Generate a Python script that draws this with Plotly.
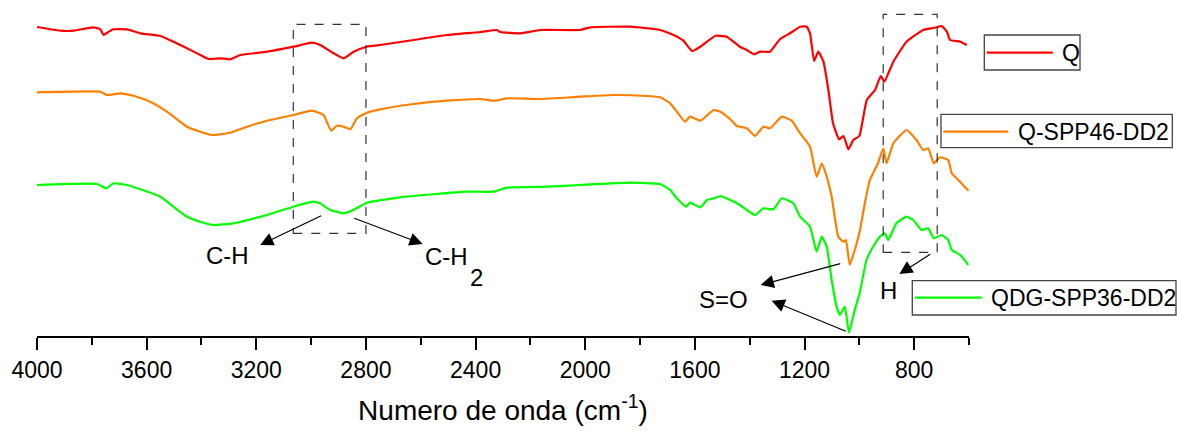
import plotly.graph_objects as go

# ---------------- data (wavenumber cm-1, transmittance in arbitrary units) ----------------
q_wn = [4000, 3915, 3866, 3794, 3769, 3757, 3747, 3721, 3672, 3623, 3550, 3502, 3453, 3404,
        3374, 3331, 3295, 3258, 3161, 3064, 2997, 2967, 2918, 2882, 2845, 2797, 2748, 2675,
        2626, 2505, 2383, 2322, 2310, 2237, 2164, 2019, 1982, 1836, 1727, 1678, 1642, 1611,
        1580, 1525, 1484, 1436, 1411, 1384, 1362, 1326, 1289, 1253, 1216, 1192, 1180, 1165,
        1150, 1131, 1113, 1096, 1074, 1058, 1040, 1022, 1000, 973, 943, 922, 909, 876, 828,
        767, 718, 700, 681, 669, 632, 608]
q_t = [309.0, 305.3, 305.3, 308.7, 306.7, 301.0, 302.7, 306.7, 306.7, 302.7, 300.0, 294.3,
       287.7, 281.0, 277.0, 277.7, 276.7, 281.0, 284.3, 289.3, 293.3, 291.0, 282.7, 277.7,
       284.3, 289.3, 291.0, 294.0, 296.0, 301.0, 304.0, 306.0, 304.0, 302.7, 306.0, 306.0,
       308.7, 309.3, 306.0, 301.0, 295.3, 285.0, 289.3, 300.3, 299.3, 289.3, 286.0, 281.7,
       284.3, 284.3, 297.0, 302.7, 309.3, 309.3, 302.7, 275.0, 284.3, 274.3, 246.0, 212.7,
       196.7, 200.0, 186.7, 196.0, 200.0, 236.0, 246.0, 260.0, 254.3, 274.3, 294.3, 306.0,
       308.7, 310.0, 304.3, 296.0, 294.3, 291.0]

o_wn = [4000, 3769, 3745, 3696, 3648, 3587, 3526, 3453, 3404, 3362, 3295, 3234, 3161, 3064,
        2997, 2955, 2927, 2906, 2882, 2857, 2833, 2797, 2748, 2626, 2505, 2383, 2328, 2286,
        2164, 2019, 1897, 1776, 1727, 1690, 1666, 1636, 1618, 1580, 1532, 1507, 1471, 1447,
        1411, 1381, 1350, 1326, 1283, 1247, 1216, 1180, 1156, 1137, 1119, 1101, 1077, 1058,
        1049, 1035, 1017, 999, 980, 962, 932, 913, 901, 876, 828, 792, 767, 749, 728, 706,
        676, 663, 639, 602]
o_t = [243.7, 244.3, 241.0, 242.7, 240.3, 234.3, 224.3, 209.3, 204.3, 201.0, 203.3, 209.3,
       215.3, 221.0, 225.3, 221.0, 205.3, 210.3, 209.3, 206.7, 217.7, 223.3, 226.7, 232.0,
       235.3, 237.0, 235.3, 237.7, 237.0, 239.3, 241.0, 240.0, 238.7, 232.7, 224.3, 214.3,
       219.3, 215.3, 226.0, 224.3, 216.7, 210.0, 207.7, 200.0, 209.3, 207.7, 219.3, 215.3,
       202.7, 189.3, 159.3, 172.7, 159.3, 139.3, 99.3, 94.3, 96.0, 71.0, 86.0, 104.3, 132.7,
       156.0, 172.7, 187.7, 172.7, 192.7, 206.0, 196.0, 186.0, 187.7, 172.7, 178.7, 176.0,
       162.7, 156.0, 145.3]

g_wn = [4000, 3781, 3747, 3721, 3672, 3623, 3550, 3502, 3453, 3405, 3357, 3284, 3162, 3065,
        2992, 2968, 2931, 2883, 2846, 2797, 2676, 2432, 2335, 2286, 2140, 2019, 1836, 1727,
        1690, 1666, 1632, 1618, 1580, 1556, 1532, 1507, 1471, 1436, 1411, 1381, 1350, 1314,
        1283, 1241, 1216, 1180, 1156, 1137, 1119, 1101, 1083, 1071, 1053, 1038, 1017, 999,
        974, 950, 925, 907, 895, 865, 828, 804, 773, 749, 728, 700, 676, 663, 632, 602]
g_t = [151.0, 152.0, 147.7, 152.7, 151.0, 146.7, 139.3, 129.3, 119.3, 114.3, 111.0, 112.7,
       121.0, 129.3, 134.3, 132.7, 126.0, 122.7, 126.0, 133.3, 138.7, 144.3, 144.3, 148.3,
       149.3, 151.0, 153.3, 152.0, 146.0, 137.7, 129.3, 133.3, 128.7, 136.0, 137.7, 140.0,
       136.0, 131.0, 126.0, 121.0, 127.7, 126.7, 137.7, 132.7, 119.3, 109.3, 84.3, 99.3,
       89.3, 56.0, 29.3, 21.0, 29.3, 3.3, 26.0, 42.7, 76.0, 89.3, 99.3, 102.7, 96.0, 112.7,
       119.3, 116.0, 106.0, 107.7, 97.7, 101.0, 96.0, 86.0, 81.0, 71.0]

series_names = ["Q", "Q-SPP46-DD2", "QDG-SPP36-DD2"]
series_colors = ["#FF0000", "#FF8000", "#00FF00"]

x_ticks = [4000, 3600, 3200, 2800, 2400, 2000, 1600, 1200, 800]
x_minor = [3800, 3400, 3000, 2600, 2200, 1800, 1400, 1000, 600]

# ---------------- figure ----------------
W, H = 1177, 431
ML, MR, MT, MB = 37, 208, 0, 95
PW, PH = W - ML - MR, H - MT - MB
FONT = "Liberation Sans, Arial, sans-serif"


def pxx(px):
    return (px - ML) / PW


def pxy(py):
    return (MT + PH - py) / PH


fig = go.Figure()
for wn, t, name, col in zip([q_wn, o_wn, g_wn], [q_t, o_t, g_t], series_names, series_colors):
    fig.add_trace(go.Scatter(x=wn, y=t, mode="lines", name=name,
                             line=dict(color=col, width=2.2, shape="spline", smoothing=0.4),
                             showlegend=False))

shapes = []
# dashed boxes around C-H region and H region
for x0, x1, y0, y1 in [(3065, 2800, 102.7, 311.7), (913, 716, 83.7, 321.7)]:
    shapes.append(dict(type="rect", xref="x", yref="y", x0=x0, x1=x1, y0=y0, y1=y1,
                       line=dict(color="#333333", width=1.2, dash="dash")))

# manual legends (one box next to each curve)
legend_boxes = [  # (left, right, top, bottom, line_x0, line_x1, line_y, text_left)
    (984.3, 1080, 35, 70, 986.7, 1052.7, 52.7, 1060),
    (941, 1172.3, 114.3, 147.7, 943.3, 1008.3, 131.7, 1015.5),
    (912.3, 1176, 280.7, 315, 915, 981.7, 297.7, 988.5),
]
annotations = []
for (l, r, t, b, lx0, lx1, ly, tx), name, col in zip(legend_boxes, series_names, series_colors):
    shapes.append(dict(type="rect", xref="paper", yref="paper", x0=pxx(l), x1=pxx(r),
                       y0=pxy(b), y1=pxy(t), line=dict(color="#444444", width=1.3)))
    shapes.append(dict(type="line", xref="paper", yref="paper", x0=pxx(lx0), x1=pxx(lx1),
                       y0=pxy(ly), y1=pxy(ly), line=dict(color=col, width=2.2)))
    annotations.append(dict(xref="paper", yref="paper", x=pxx(tx), y=pxy(ly), text=name,
                            showarrow=False, xanchor="left", yanchor="middle",
                            font=dict(family=FONT, size=23, color="black")))

# arrows (head x,y ; tail ax,ay in data coords)
arrows = [(3186, 91, 2958, 121), (2593, 92, 2848, 118.3),
          (1360, 51, 1064, 72.8), (1320, 35.3, 1044, 4.2),
          (854, 62, 736, 82.7)]
for x, y, ax, ay in arrows:
    annotations.append(dict(x=x, y=y, ax=ax, ay=ay, xref="x", yref="y", axref="x", ayref="y",
                            text="", showarrow=True, arrowhead=2, arrowsize=2.2,
                            arrowwidth=1.2, arrowcolor="black"))

labels = [("C-H", 3305, 81), ("C-H", 2505, 79.3), ("2", 2396, 58.7),
          ("S=O", 1496, 36.3), ("H", 893, 45.5)]
for txt, x, y in labels:
    annotations.append(dict(x=x, y=y, xref="x", yref="y", text=txt, showarrow=False,
                            xanchor="center", yanchor="middle",
                            font=dict(family=FONT, size=24, color="black")))

fig.update_layout(
    width=W, height=H,
    margin=dict(l=ML, r=MR, t=MT, b=MB, pad=0),
    paper_bgcolor="white", plot_bgcolor="white",
    font=dict(family=FONT, color="black"),
    shapes=shapes, annotations=annotations,
    xaxis=dict(range=[4000, 600], tickmode="array", tickvals=x_ticks,
               ticktext=[str(v) for v in x_ticks],
               showline=True, linecolor="black", linewidth=2,
               ticks="outside", ticklen=12, tickwidth=2, tickcolor="black",
               minor=dict(tickmode="array", tickvals=x_minor,
                          ticks="outside", ticklen=7, tickwidth=2, tickcolor="black"),
               showgrid=False, zeroline=False,
               tickfont=dict(family=FONT, size=23, color="black"),
               title=dict(text="Numero de onda (cm<sup>-1</sup>)", standoff=19,
                          font=dict(family=FONT, size=28, color="black"))),
    yaxis=dict(range=[0, PH], visible=False, showgrid=False, zeroline=False),
)

fig.write_html("out.html")
